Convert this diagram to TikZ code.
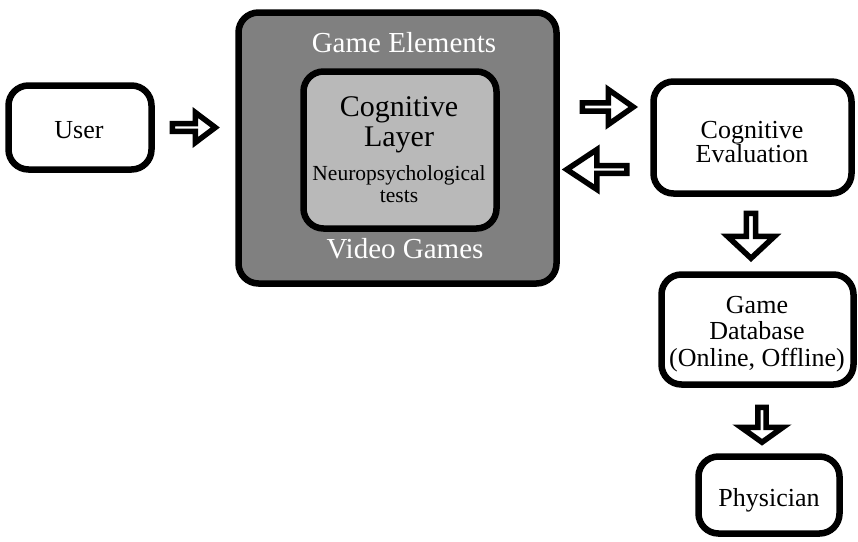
\documentclass[tikz,border=0pt]{standalone}
\usepackage{fontspec}
\setmainfont{Liberation Serif}
\usetikzlibrary{shapes.arrows,positioning,calc}
\definecolor{Frame}{HTML}{000000}
\definecolor{DarkGray}{HTML}{808080}
\definecolor{LightGray}{HTML}{B9B9B9}
\definecolor{Caption}{HTML}{FFFFFF}

\begin{document}
\begin{tikzpicture}[x=1pt,y=-1pt,every node/.style={text=black},roundbox/.style={rounded corners=20pt,draw=Frame,line width=6.5pt,fill=white,inner sep=0pt},boxtext/.style={inner sep=0pt,align=center,font=\fontsize{26}{24}\selectfont},whitetext/.style={text=Caption,inner sep=0pt,font=\fontsize{29}{29}\selectfont},blockarrow/.style={single arrow,draw=Frame,fill=white,line width=5.5pt,inner sep=0pt,anchor=tail}]
\fill[white] (0,0) rectangle (858,541);
\useasboundingbox (0,0) rectangle (858,541);
\node[roundbox,minimum width=143pt,minimum height=84pt] (user) at (80,127.5) {};
\node[boxtext] (userText) at (79,130) {User};
\node[roundbox,fill=DarkGray,minimum width=318pt,minimum height=271pt] (games) at (397.5,148) {};
\node[roundbox,fill=LightGray,minimum width=193pt,minimum height=157pt] (layer) at (400,150) {};
\node[whitetext] (elemTitle) at (404,43) {Game Elements};
\node[whitetext] (videoTitle) at (405,249) {Video Games};
\node[boxtext,font=\fontsize{30}{30}\selectfont] (layerTitle) at (399,125) {Cognitive\\Layer};
\node[boxtext,font=\fontsize{21.5}{22}\selectfont] (testsText) at (399,184) {Neuropsychological\\tests};
\node[roundbox,minimum width=198pt,minimum height=112pt] (evaluation) at (752.5,137.5) {};
\node[boxtext] (evalText) at (752,142) {Cognitive\\Evaluation};
\node[roundbox,minimum width=192pt,minimum height=110pt] (database) at (757.5,329.5) {};
\node[boxtext,font=\fontsize{26}{26.5}\selectfont] (dbText) at (757,334) {Game\\Database\\(Online, Offline)};
\node[roundbox,minimum width=141pt,minimum height=77pt] (physician) at (769,495) {};
\node[boxtext] (physText) at (769,500) {Physician};
\node[blockarrow,minimum height=43pt,minimum width=30pt,single arrow head extend=8pt,single arrow tip angle=74] (toGames) at (169.5,127.5) {};
\node[blockarrow,minimum height=51pt,minimum width=35pt,single arrow head extend=9pt,single arrow tip angle=70] (toEval) at (579.5,107) {};
\node[blockarrow,shape border rotate=180,minimum height=60pt,minimum width=40pt,single arrow head extend=11.5pt,single arrow tip angle=67] (fromEval) at (629.5,169.5) {};
\node[blockarrow,shape border rotate=270,minimum height=45pt,minimum width=47pt,single arrow head extend=11pt,single arrow tip angle=94] (toDatabase) at (751,210.5) {};
\node[blockarrow,shape border rotate=270,minimum height=35pt,minimum width=42pt,single arrow head extend=11.5pt,single arrow tip angle=109] (toPhysician) at (762,404.5) {};
\end{tikzpicture}
\end{document}
